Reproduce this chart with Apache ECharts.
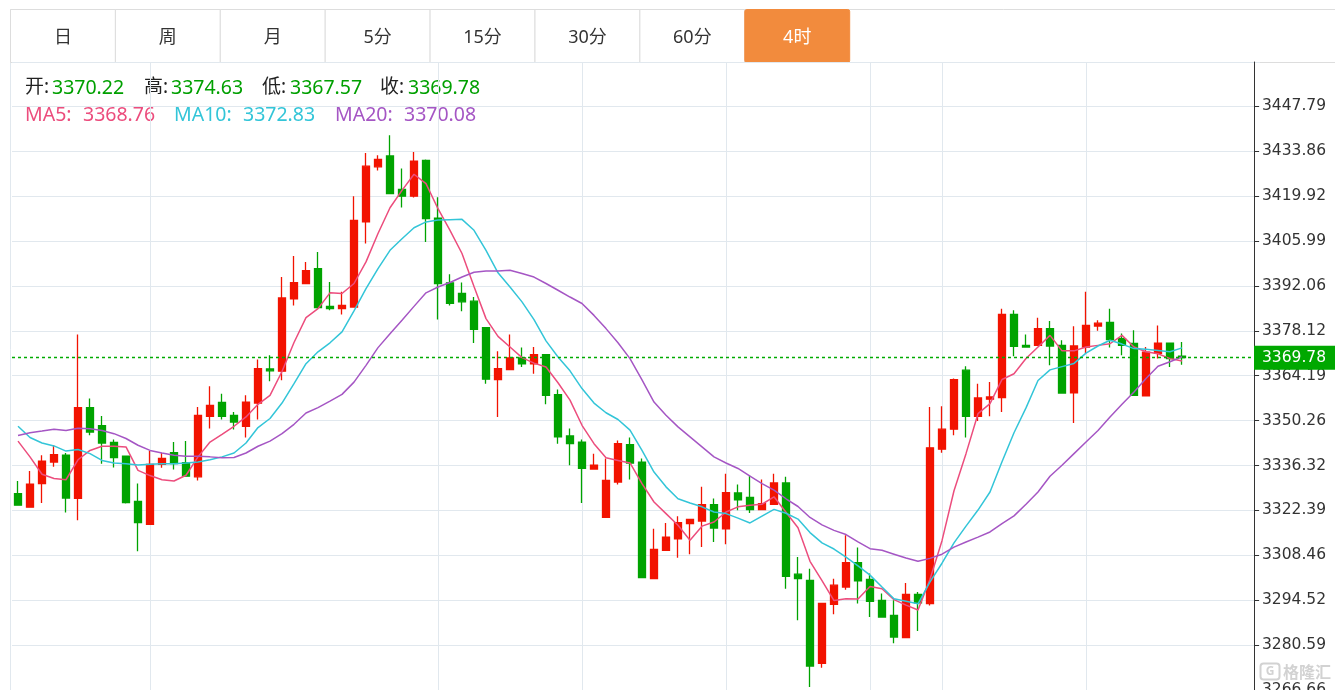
<!DOCTYPE html>
<html>
<head>
<meta charset="utf-8">
<script src="https://cdn.jsdelivr.net/npm/echarts@6/dist/echarts.min.js"></script>
<style>
html,body{margin:0;padding:0;background:#fff;}
#chart{width:1335px;height:690px;}
</style>
</head>
<body>
<div id="chart"></div>
<script>
// ---- data ----
const tabLabels = ['日', '周', '月', '5分', '15分', '30分', '60分', '4时'];
const activeTab = 7;

// candles: [open, close, lowest, highest]
const ohlc = [
  [3327.6,3324.0,3323.8,3331.5],[3323.4,3330.5,3323.3,3334.6],[3330.7,3337.7,3324.7,3339.5],[3337.4,3339.7,3335.9,3342.6],
  [3339.5,3326.2,3321.7,3340.2],[3326.1,3354.3,3319.3,3377.0],[3354.3,3346.7,3345.7,3357.1],[3348.7,3343.3,3336.9,3351.7],
  [3343.5,3338.8,3335.7,3344.4],[3339.2,3324.8,3324.5,3339.2],[3325.2,3318.6,3309.7,3330.7],[3318.1,3336.7,3318.0,3340.8],
  [3336.7,3338.5,3335.6,3340.2],[3340.3,3336.9,3335.1,3343.6],[3337.2,3333.0,3332.9,3343.9],[3332.8,3351.9,3331.7,3354.5],
  [3351.6,3355.0,3347.8,3360.9],[3355.9,3351.6,3350.6,3358.6],[3351.9,3349.8,3347.5,3352.9],[3348.5,3356.0,3345.0,3358.1],
  [3355.7,3366.4,3350.6,3369.2],[3366.3,3365.7,3362.5,3370.5],[3365.6,3388.3,3362.8,3394.8],[3388.0,3393.1,3386.0,3401.3],
  [3392.8,3396.8,3392.7,3399.5],[3397.4,3385.3,3385.0,3402.6],[3385.7,3385.0,3384.5,3393.3],[3385.0,3386.0,3383.2,3390.2],
  [3385.5,3412.4,3385.4,3419.9],[3411.9,3429.2,3405.2,3433.3],[3429.0,3431.3,3427.9,3432.6],[3432.4,3420.7,3420.6,3438.8],
  [3422.0,3419.9,3416.4,3428.5],[3419.9,3430.8,3419.5,3433.6],[3431.0,3412.9,3405.7,3431.3],[3413.1,3392.8,3381.6,3419.6],
  [3393.0,3386.6,3386.0,3395.7],[3389.7,3387.1,3384.2,3393.1],[3387.3,3378.6,3374.3,3388.6],[3379.1,3363.1,3361.7,3379.3],
  [3363.0,3366.4,3351.4,3371.8],[3366.1,3369.7,3365.9,3377.0],[3369.7,3367.9,3366.9,3372.9],[3367.9,3370.7,3364.8,3373.1],
  [3370.7,3358.1,3355.3,3370.8],[3358.3,3345.2,3343.1,3359.9],[3345.5,3343.1,3336.4,3347.8],[3343.6,3335.4,3324.7,3344.4],
  [3335.2,3336.4,3335.1,3340.0],[3320.2,3331.7,3320.1,3338.5],[3331.2,3343.1,3330.4,3344.1],[3342.8,3337.1,3332.0,3345.0],
  [3337.4,3301.5,3301.4,3338.5],[3301.2,3310.3,3301.1,3316.7],[3310.0,3314.1,3309.9,3318.5],[3313.6,3318.6,3307.7,3320.6],
  [3318.3,3319.6,3308.8,3319.7],[3319.1,3324.2,3311.0,3329.7],[3324.2,3316.9,3312.6,3326.1],[3316.7,3327.9,3311.9,3333.8],
  [3327.8,3325.7,3322.4,3330.4],[3326.4,3322.6,3321.6,3333.3],[3322.6,3324.5,3322.5,3332.0],[3324.3,3330.9,3324.2,3333.8],
  [3330.9,3301.9,3298.1,3332.8],[3302.6,3301.2,3288.3,3307.9],[3300.7,3274.1,3267.6,3304.3],[3274.9,3293.5,3273.6,3293.6],
  [3293.2,3299.2,3290.2,3301.2],[3298.6,3306.2,3297.8,3314.7],[3306.2,3300.5,3293.5,3310.9],[3301.0,3294.2,3289.3,3302.8],
  [3294.5,3289.3,3289.2,3296.6],[3289.8,3283.1,3281.2,3294.5],[3282.9,3296.3,3282.8,3299.9],[3296.3,3293.7,3285.0,3297.1],
  [3293.5,3341.8,3292.9,3354.5],[3341.4,3347.6,3340.3,3354.7],[3347.6,3363.0,3345.7,3363.3],[3365.9,3351.6,3345.0,3367.1],
  [3351.6,3357.3,3350.1,3361.7],[3356.9,3357.6,3351.6,3362.2],[3357.4,3383.2,3352.9,3385.0],[3383.2,3373.3,3370.2,3384.5],
  [3373.6,3373.1,3373.0,3377.0],[3373.6,3378.8,3373.5,3382.2],[3378.8,3373.4,3367.4,3381.2],[3373.6,3358.8,3358.7,3375.2],
  [3358.9,3373.4,3349.5,3379.5],[3373.1,3379.8,3371.1,3390.2],[3379.6,3380.5,3378.1,3381.4],[3380.7,3375.4,3372.9,3385.0],
  [3375.7,3373.6,3370.5,3377.3],[3374.2,3358.1,3358.0,3378.3],[3357.9,3371.5,3357.8,3373.1],[3371.1,3374.3,3369.5,3379.8],
  [3374.3,3369.5,3366.9,3374.4],[3370.22,3369.78,3367.57,3374.63]
];

const ma5 = [
  3343.9,3339.0,3333.6,3332.3,3331.9,3338.1,3341.0,3342.3,3342.3,3342.1,3334.8,3333.2,3331.9,3331.5,3333.3,3339.0,
  3343.6,3346.0,3348.5,3351.4,3355.3,3358.1,3365.5,3374.5,3382.2,3385.0,3389.9,3389.7,3392.8,3399.5,3408.3,3416.3,
  3421.7,3426.7,3423.8,3416.0,3409.3,3402.1,3391.9,3381.9,3376.4,3373.1,3369.8,3368.1,3366.9,3362.0,3356.6,3348.8,
  3343.1,3338.7,3337.9,3337.1,3330.7,3325.0,3321.4,3317.8,3313.1,3317.5,3318.8,3321.9,3323.5,3324.0,3324.3,3326.6,
  3321.8,3317.0,3306.6,3300.6,3294.4,3295.0,3294.9,3298.8,3298.1,3294.7,3293.0,3291.5,3301.0,3313.0,3328.5,3340.0,
  3352.4,3355.5,3363.0,3364.8,3369.5,3373.1,3376.7,3371.9,3371.9,3373.1,3373.6,3374.1,3376.7,3373.1,3371.6,3371.0,
  3369.5,3368.76
];
const ma10 = [
  3348.5,3345.0,3343.3,3342.4,3340.8,3341.3,3340.0,3337.9,3337.1,3336.9,3336.5,3336.7,3336.9,3336.9,3337.1,3337.4,
  3338.1,3339.0,3340.2,3343.3,3348.1,3350.9,3355.7,3361.7,3367.9,3371.6,3374.4,3377.8,3384.3,3391.2,3397.4,3403.1,
  3406.7,3410.1,3411.9,3412.5,3412.6,3412.7,3409.3,3403.1,3396.1,3391.7,3387.1,3381.6,3375.0,3370.0,3365.7,3360.2,
  3355.7,3352.7,3350.6,3347.3,3341.0,3334.3,3329.7,3326.0,3324.7,3323.5,3321.9,3321.4,3320.0,3318.5,3320.6,3322.7,
  3321.5,3319.7,3315.5,3312.3,3310.4,3307.9,3305.2,3302.3,3298.6,3295.0,3294.2,3293.4,3300.2,3306.0,3312.3,3317.5,
  3322.5,3328.1,3337.5,3346.5,3354.2,3362.7,3366.0,3367.0,3368.0,3371.2,3373.4,3375.2,3374.0,3372.6,3372.4,3372.0,
  3371.6,3372.83
];
const ma20 = [
  3345.6,3346.5,3347.0,3347.6,3347.2,3347.9,3347.7,3347.2,3346.2,3344.7,3342.6,3341.0,3340.2,3339.5,3339.2,3339.2,
  3339.0,3338.7,3338.8,3340.2,3342.3,3343.9,3346.2,3349.1,3352.6,3354.3,3356.3,3358.4,3362.2,3367.4,3372.9,3377.2,
  3381.4,3385.7,3389.9,3391.7,3393.1,3394.8,3396.3,3396.7,3396.7,3396.9,3395.9,3394.8,3392.8,3390.7,3388.6,3386.6,
  3382.9,3378.8,3374.4,3369.5,3362.9,3356.0,3351.9,3348.3,3345.2,3342.1,3339.0,3337.1,3335.4,3333.0,3330.7,3328.7,
  3326.0,3323.6,3320.2,3317.9,3316.2,3314.9,3312.6,3310.5,3310.0,3308.8,3307.6,3306.6,3307.5,3308.8,3311.0,3312.6,
  3314.1,3315.7,3318.3,3320.7,3324.3,3328.1,3333.0,3336.4,3340.0,3343.6,3347.2,3351.4,3355.3,3359.1,3363.3,3367.1,
  3368.5,3370.08
];

const yTickLabels = ['3266.66','3280.59','3294.52','3308.46','3322.39','3336.32','3350.26',
                     '3364.19','3378.12','3392.06','3405.99','3419.92','3433.86','3447.79'];
const dayLineIndex = [11, 35, 47, 59, 71, 77, 89];
const emptySlots = 6;

// ---- derived ----
const categories = [];
for (let i = 0; i < ohlc.length + emptySlots; i++) categories.push(String(i + 1));
const last = ohlc[ohlc.length - 1];
const lastClose = last[1];
const yMin = parseFloat(yTickLabels[0]);
const yStep = (parseFloat(yTickLabels[yTickLabels.length - 1]) - yMin) / (yTickLabels.length - 1);

const UP = '#f21300', DOWN = '#00a300';
const C_MA5 = '#ec4d7d', C_MA10 = '#33c5d8', C_MA20 = '#a556c4';
const GRID = '#e1e8ee';
const latin = '"Noto Sans", "Noto Sans CJK SC", sans-serif';

const g = [];
// frame lines
g.push({type:'line', silent:true, shape:{x1:10,y1:9.5,x2:1335,y2:9.5}, style:{stroke:'#dddddd',lineWidth:1}});
g.push({type:'line', silent:true, shape:{x1:10,y1:62.5,x2:1335,y2:62.5}, style:{stroke:'#dddddd',lineWidth:1}});
g.push({type:'line', silent:true, shape:{x1:10.5,y1:9,x2:10.5,y2:690}, style:{stroke:GRID,lineWidth:1}});
// tabs
const tabW = 104.9;
tabLabels.forEach((t, i) => {
  const x = 10 + i * tabW;
  const act = i === activeTab;
  g.push({type:'rect', silent:true, shape:{x:x+0.5, y:9.5, width:tabW, height:53, r: act ? 2 : 0},
          style:{fill: act ? '#f28b3d' : '#ffffff', stroke: act ? '#f28b3d' : '#dddddd', lineWidth:1}});
  g.push({type:'text', silent:true, x: x + tabW / 2 + 0.5, y: 38,
          style:{text:t, fill: act ? '#ffffff' : '#333333', font:'18px ' + latin, textAlign:'center', textVerticalAlign:'middle'}});
});
// OHLC legend
const ohlcItems = [
  {label:'开:', value:last[0], lx:25, vx:52},
  {label:'高:', value:last[3], lx:144, vx:171},
  {label:'低:', value:last[2], lx:262, vx:290},
  {label:'收:', value:last[1], lx:380, vx:408}
];
ohlcItems.forEach(it => {
  g.push({type:'text', silent:true, x:it.lx, y:88, style:{text:it.label, fill:'#222', font:'19px ' + latin, textVerticalAlign:'middle'}});
  g.push({type:'text', silent:true, x:it.vx, y:88, style:{text:it.value.toFixed(2), fill:'#00a000', font:'19.5px ' + latin, textVerticalAlign:'middle'}});
});
const maItems = [
  {name:'MA5:', value:ma5[ma5.length-1], x:25, vx:83, c:C_MA5},
  {name:'MA10:', value:ma10[ma10.length-1], x:174, vx:243, c:C_MA10},
  {name:'MA20:', value:ma20[ma20.length-1], x:335, vx:404, c:C_MA20}
];
maItems.forEach(it => {
  g.push({type:'text', silent:true, x:it.x, y:115, style:{text:it.name, fill:it.c, font:'19.5px ' + latin, textVerticalAlign:'middle'}});
  g.push({type:'text', silent:true, x:it.vx, y:115, style:{text:it.value.toFixed(2), fill:it.c, font:'19.5px ' + latin, textVerticalAlign:'middle'}});
});
// watermark
g.push({type:'rect', silent:true, shape:{x:1260.5, y:663.5, width:19, height:16, r:3}, style:{fill:'none', stroke:'#d2d2d2', lineWidth:2}});
g.push({type:'text', silent:true, x:1270, y:672, style:{text:'G', fill:'#d2d2d2', font:'bold 12px ' + latin, textAlign:'center', textVerticalAlign:'middle'}});
g.push({type:'text', silent:true, x:1283, y:672, style:{text:'格隆汇', fill:'#d2d2d2', font:'bold 16px "Noto Sans CJK SC", sans-serif', textVerticalAlign:'middle'}});

const chart = echarts.init(document.getElementById('chart'));
chart.setOption({
  animation: false,
  backgroundColor: '#ffffff',
  grid: {left: 12, right: 75, top: 62, bottom: 0, containLabel: false, outerBoundsMode: 'none'},
  xAxis: {
    type: 'category',
    data: categories,
    boundaryGap: true,
    axisLine: {show: false},
    axisTick: {show: false},
    axisLabel: {show: false},
    splitLine: {
      show: true,
      alignWithLabel: true,
      interval: (idx) => dayLineIndex.indexOf(idx) >= 0,
      lineStyle: {color: GRID, width: 1}
    }
  },
  yAxis: {
    type: 'value',
    position: 'right',
    offset: -6,
    scale: true,
    min: yMin,
    max: 3461.53,
    interval: yStep,
    axisLine: {show: true, lineStyle: {color: '#333333', width: 1}},
    axisTick: {show: true, length: 5, lineStyle: {color: '#333333'}},
    axisLabel: {
      show: true, margin: 8, color: '#333333', fontSize: 15.5, fontFamily: '"DejaVu Sans", sans-serif',
      showMaxLabel: false,
      formatter: (v) => {
        for (const l of yTickLabels) { if (Math.abs(parseFloat(l) - v) < 0.5) return l; }
        return '';
      }
    },
    splitLine: {show: true, lineStyle: {color: GRID, width: 1}}
  },
  graphic: {elements: g},
  series: [
    {
      type: 'candlestick',
      data: ohlc,
      barWidth: 7,
      itemStyle: {color: UP, color0: DOWN, borderColor: UP, borderColor0: DOWN, borderWidth: 1.3},
      markLine: {
        silent: true,
        symbol: ['none', 'none'],
        animation: false,
        lineStyle: {color: '#00aa00', type: [3, 3], width: 1.3},
        label: {
          show: true, position: 'end', distance: -6,
          formatter: () => lastClose.toFixed(2),
          backgroundColor: '#00a800', color: '#ffffff',
          fontSize: 15.5, fontFamily: '"DejaVu Sans", sans-serif',
          padding: [4, 12, 4, 8], lineHeight: 16
        },
        data: [{yAxis: lastClose}]
      }
    },
    {type: 'line', data: ma5, showSymbol: false, symbol: 'none', lineStyle: {color: C_MA5, width: 1.5}, itemStyle: {color: C_MA5}},
    {type: 'line', data: ma10, showSymbol: false, symbol: 'none', lineStyle: {color: C_MA10, width: 1.5}, itemStyle: {color: C_MA10}},
    {type: 'line', data: ma20, showSymbol: false, symbol: 'none', lineStyle: {color: C_MA20, width: 1.5}, itemStyle: {color: C_MA20}}
  ]
});
</script>
</body>
</html>
